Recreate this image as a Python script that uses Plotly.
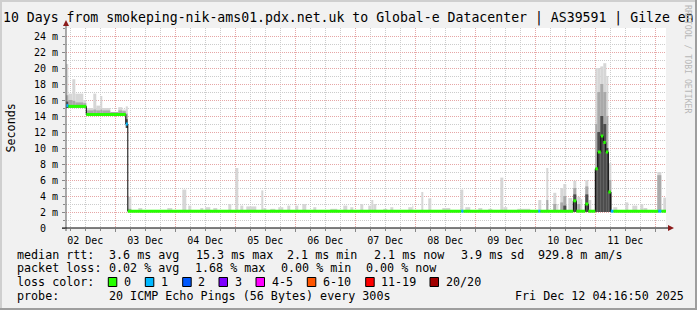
import pandas as pd
import plotly.graph_objects as go

# ---------------- data ----------------
START = "2025-12-02 04:16:50"
END = "2025-12-12 04:16:50"

# median rtt (ms) as steps: value holds from time until next time
median_from = [
    "2025-12-02 04:16:50", "2025-12-02 05:12", "2025-12-02 12:24", "2025-12-03 04:12",
    "2025-12-03 05:00", "2025-12-08 18:24", "2025-12-08 19:12", "2025-12-10 01:12",
    "2025-12-10 02:00", "2025-12-10 15:12", "2025-12-10 16:24", "2025-12-10 20:00",
    "2025-12-10 21:12", "2025-12-11 00:00", "2025-12-11 01:00", "2025-12-11 02:12",
    "2025-12-11 03:12", "2025-12-11 04:12", "2025-12-11 05:12", "2025-12-11 06:12",
    "2025-12-11 07:12", "2025-12-12 01:12", "2025-12-12 02:24",
]
median_ms = [
    15.3, 15.2, 14.2, 13.0,
    2.1, 2.1, 2.1, 2.1,
    2.1, 3.4, 2.1, 3.0,
    2.1, 7.4, 9.5, 11.5,
    10.7, 9.5, 4.5, 2.1,
    2.1, 2.1, 2.1,
]
median_loss = [
    1, 0, 0, 1,
    0, 1, 0, 1,
    0, 0, 0, 0,
    0, 0, 0, 0,
    0, 0, 0, 1,
    0, 1, 0,
]

# smoke (ping spread, ms) per time slice
smoke_from = [
    "2025-12-02 04:16:50", "2025-12-02 05:12", "2025-12-02 06:48", "2025-12-02 08:00",
    "2025-12-02 11:12", "2025-12-02 12:24", "2025-12-02 15:12", "2025-12-02 16:24",
    "2025-12-02 18:00", "2025-12-02 18:48", "2025-12-02 22:00", "2025-12-03 01:12",
    "2025-12-03 02:48", "2025-12-03 04:12", "2025-12-03 05:00",
    "2025-12-03 09:12", "2025-12-03 20:48", "2025-12-04 02:48", "2025-12-04 05:12",
    "2025-12-04 10:00", "2025-12-04 12:00", "2025-12-04 15:12", "2025-12-04 21:12",
    "2025-12-05 00:00", "2025-12-05 02:00", "2025-12-05 04:24", "2025-12-05 10:24",
    "2025-12-05 11:12", "2025-12-05 14:00", "2025-12-05 17:12", "2025-12-05 20:48",
    "2025-12-06 00:00", "2025-12-06 02:48", "2025-12-06 07:12", "2025-12-06 14:00",
    "2025-12-06 19:12", "2025-12-06 22:00", "2025-12-07 02:00", "2025-12-07 05:12",
    "2025-12-07 06:24", "2025-12-07 07:12", "2025-12-07 11:12", "2025-12-07 14:00",
    "2025-12-07 21:12", "2025-12-07 22:48", "2025-12-08 02:24", "2025-12-08 05:12",
    "2025-12-08 10:48", "2025-12-08 18:00", "2025-12-08 20:00", "2025-12-09 01:12",
    "2025-12-09 05:12", "2025-12-09 10:00", "2025-12-09 11:12", "2025-12-09 16:48",
    "2025-12-10 01:12", "2025-12-10 04:24", "2025-12-10 07:12", "2025-12-10 08:48",
    "2025-12-10 10:00", "2025-12-10 11:12", "2025-12-10 13:12", "2025-12-10 15:12",
    "2025-12-10 16:48", "2025-12-10 18:00", "2025-12-10 20:00", "2025-12-10 21:12",
    "2025-12-11 00:00", "2025-12-11 00:48", "2025-12-11 02:00", "2025-12-11 03:12",
    "2025-12-11 04:24", "2025-12-11 05:12", "2025-12-11 07:12", "2025-12-11 12:00",
    "2025-12-11 14:48", "2025-12-11 18:00", "2025-12-11 19:12", "2025-12-12 00:48",
    "2025-12-12 03:12",
]
smoke_to = [
    "2025-12-02 05:12", "2025-12-02 06:48", "2025-12-02 08:00", "2025-12-02 11:12",
    "2025-12-02 12:24", "2025-12-02 15:12", "2025-12-02 16:24", "2025-12-02 18:00",
    "2025-12-02 18:48", "2025-12-02 22:00", "2025-12-03 01:12", "2025-12-03 02:48",
    "2025-12-03 04:12", "2025-12-03 05:00", "2025-12-03 06:24",
    "2025-12-03 10:48", "2025-12-03 22:48", "2025-12-04 04:24", "2025-12-04 06:24",
    "2025-12-04 11:12", "2025-12-04 14:00", "2025-12-04 16:48", "2025-12-04 22:24",
    "2025-12-05 01:12", "2025-12-05 03:12", "2025-12-05 08:24", "2025-12-05 11:12",
    "2025-12-05 12:24", "2025-12-05 16:00", "2025-12-05 19:12", "2025-12-05 22:00",
    "2025-12-06 01:12", "2025-12-06 04:24", "2025-12-06 08:24", "2025-12-06 16:48",
    "2025-12-06 20:48", "2025-12-06 23:12", "2025-12-07 03:12", "2025-12-07 06:24",
    "2025-12-07 07:12", "2025-12-07 08:24", "2025-12-07 12:48", "2025-12-07 15:12",
    "2025-12-07 22:48", "2025-12-07 23:12", "2025-12-08 03:12", "2025-12-08 06:24",
    "2025-12-08 14:00", "2025-12-08 19:12", "2025-12-08 22:00", "2025-12-09 02:48",
    "2025-12-09 06:48", "2025-12-09 11:12", "2025-12-09 12:48", "2025-12-09 22:00",
    "2025-12-10 02:24", "2025-12-10 05:12", "2025-12-10 08:24", "2025-12-10 09:12",
    "2025-12-10 11:12", "2025-12-10 12:24", "2025-12-10 14:48", "2025-12-10 16:24",
    "2025-12-10 18:00", "2025-12-10 18:48", "2025-12-10 21:12", "2025-12-10 22:24",
    "2025-12-11 00:48", "2025-12-11 02:00", "2025-12-11 03:12", "2025-12-11 04:24",
    "2025-12-11 05:12", "2025-12-11 06:24", "2025-12-11 08:48", "2025-12-11 13:12",
    "2025-12-11 16:48", "2025-12-11 19:12", "2025-12-11 20:48", "2025-12-12 02:24",
    "2025-12-12 04:16:50",
]
smoke_min = [
    15.0, 15.0, 15.0, 15.0, 15.0, 14.0, 14.0, 14.0, 14.0, 14.0, 14.0, 14.0, 14.0, 12.5, 2.0,
] + [2.0] * 65
smoke_max = [
    20.5, 16.8, 18.6, 16.8, 16.0, 15.0, 16.8, 15.3, 16.5, 15.0, 14.5, 15.1, 14.8, 15.2, 3.9,
    2.5, 2.5, 4.8, 2.8, 2.5, 2.6, 2.5, 3.0,
    7.5, 2.8, 2.7, 4.7, 2.5, 2.4, 2.6, 2.8,
    2.8, 3.0, 2.6, 2.4, 2.8, 2.6, 3.0, 2.8,
    3.5, 3.0, 2.4, 2.6, 2.6, 2.8, 4.5, 3.7,
    2.5, 4.8, 2.6, 2.5, 2.4, 6.3, 2.6, 2.4,
    3.5, 7.5, 4.4, 3.0, 5.0, 5.5, 3.75, 5.9,
    3.9, 3.6, 6.0, 3.5,
    20.0, 20.0, 20.2, 20.6, 19.0, 8.1,
    2.6, 3.2, 2.8, 3.0, 2.5, 7.0, 3.8,
]
N = None
smoke_mid = [
    16.6, 16.0, 15.9, 15.7, 15.6, 14.7, 14.8, 14.7, 14.8, 14.7, 14.5, 14.7, 14.6, 14.3, 2.4,
    N, N, N, N, N, N, N, N,
    N, N, N, N, N, N, N, N,
    N, N, N, N, N, N, N, N,
    N, N, N, N, N, N, N, N,
    N, N, N, N, N, N, N, N,
    N, 3.5, 3.0, N, 3.2, 4.0, N, 5.0,
    3.0, N, 5.2, N,
    13.0, 17.0, 18.0, 17.0, 14.0, 6.0,
    N, N, N, N, N, 6.6, N,
]
smoke_core = [
    15.8, N, N, N, N, N, N, N, N, N, N, N, N, 13.6, N,
    N, N, N, N, N, N, N, N,
    N, N, N, N, N, N, N, N,
    N, N, N, N, N, N, N, N,
    N, N, N, N, N, N, N, N,
    N, N, N, N, N, N, N, N,
    N, N, N, N, N, 2.8, N, 4.2,
    N, N, 4.2, N,
    7.5, 12.0, 14.0, 13.0, 10.0, 4.5,
    N, N, N, N, N, N, N,
]

y_tick_ms = [0, 2, 4, 6, 8, 10, 12, 14, 16, 18, 20, 22, 24]
y_tick_labels = ["0\u00a0\u00a0", "2 m", "4 m", "6 m", "8 m", "10 m", "12 m", "14 m",
                 "16 m", "18 m", "20 m", "22 m", "24 m"]

loss_labels = ["0", "1", "2", "3", "4-5", "6-10", "11-19", "20/20"]
loss_colors = ["#26ff00", "#00b8ff", "#0059ff", "#7e00ff", "#ff00ff", "#ff5500", "#ff0000", "#a10000"]

title_text = "10 Days from smokeping-nik-ams01.pdx.net.uk to Global-e Datacenter | AS39591 | Gilze en"
rtt_stats = ["3.6 ms avg", "15.3 ms max", "2.1 ms min", "2.1 ms now", "3.9 ms sd", "929.8 m am/s"]
loss_stats = ["0.02 % avg", "1.68 % max", "0.00 % min", "0.00 % now"]
probe_text = "20 ICMP Echo Pings (56 Bytes) every 300s"
stamp_text = "Fri Dec 12 04:16:50 2025"

# ---------------- layout geometry (pixels) ----------------
FW, FH = 697, 310
L, PW = 66, 600
T, PH = 28, 200
MONO = "DejaVu Sans Mono"


def px(x):
    return (x - L) / PW


def py(y):
    return (T + PH - y) / PH


def to_dt(values):
    return pd.to_datetime(values, format="mixed")


fig = go.Figure()

# smoke layers
sf = to_dt(smoke_from)
st = to_dt(smoke_to)
centers = sf + (st - sf) / 2
widths = [(b - a).total_seconds() * 1000 for a, b in zip(sf, st)]

for top, color in [(smoke_max, "#d6d6d6"), (smoke_mid, "#a9a9a9"), (smoke_core, "#4d4d4d")]:
    idx = [i for i, v in enumerate(top) if v is not None]
    fig.add_trace(go.Bar(
        x=[centers[i] for i in idx],
        y=[top[i] - smoke_min[i] for i in idx],
        base=[smoke_min[i] for i in idx],
        width=[widths[i] for i in idx],
        marker=dict(color=color, line=dict(width=0)),
        hoverinfo="skip", showlegend=False,
    ))

# median line (black step)
mx = list(to_dt(median_from)) + [pd.Timestamp(END)]
my = median_ms + [median_ms[-1]]
fig.add_trace(go.Scatter(x=mx, y=my, mode="lines", line=dict(color="#000000", width=1, shape="hv"),
                         hoverinfo="skip", showlegend=False))

# coloured median segments by loss
for lv in sorted(set(median_loss)):
    xs, ys = [], []
    for i, v in enumerate(median_ms):
        if median_loss[i] == lv:
            xs += [mx[i], mx[i + 1], None]
            ys += [v, v, None]
    fig.add_trace(go.Scatter(x=xs, y=ys, mode="lines",
                             line=dict(color=loss_colors[lv], width=3),
                             hoverinfo="skip", showlegend=False, connectgaps=False))

annotations = []
shapes = []

# title (fits just inside the image width)
annotations.append(dict(xref="paper", yref="paper", x=px(0.5), y=py(17.5), xanchor="left", yanchor="middle",
                        text=title_text, showarrow=False, font=dict(family=MONO, size=13.2, color="#000")))
# y-axis title
annotations.append(dict(xref="paper", yref="paper", x=px(10.5), y=py(128), xanchor="center", yanchor="middle",
                        text="Seconds", textangle=-90, showarrow=False,
                        font=dict(family=MONO, size=11.7, color="#000")))
# rrdtool watermark
annotations.append(dict(xref="paper", yref="paper", x=px(688), y=py(59), xanchor="center", yanchor="middle",
                        text="RRDTOOL / TOBI OETIKER", textangle=90, showarrow=False,
                        font=dict(family=MONO, size=8.2, color="#b8b8b8")))

LEG = dict(family=MONO, size=11.7, color="#000")


def label(x, y, text):
    annotations.append(dict(xref="paper", yref="paper", x=px(x), y=py(y), xanchor="left", yanchor="middle",
                            text=text, showarrow=False, font=LEG))


row_y = [254.5, 268.3, 281.7, 295.7]
label(15.3, row_y[0], "median rtt:")
for xpos, t in zip([106.6, 193.6, 285.3, 372.0, 459.3, 536.0], rtt_stats):
    label(xpos, row_y[0], t)
label(15.3, row_y[1], "packet loss:")
for xpos, t in zip([106.6, 193.0, 278.6, 364.3], loss_stats):
    label(xpos, row_y[1], t)
label(15.3, row_y[2], "loss color:")
box_x = [108.3, 145.3, 182.7, 219.0, 256.0, 307.3, 365.7, 430.0]
for bx, lab, col in zip(box_x, loss_labels, loss_colors):
    shapes.append(dict(type="rect", xref="paper", yref="paper", x0=px(bx), x1=px(bx + 8.5),
                       y0=py(277.5), y1=py(286.5), fillcolor=col, line=dict(color="#000", width=1)))
    label(bx + 13.7, row_y[2], lab)
label(15.3, row_y[3], "probe:")
label(106.6, row_y[3], probe_text)
label(512.6, row_y[3], stamp_text)

# image frame (rrdtool shading)
shapes += [
    dict(type="rect", xref="paper", yref="paper", x0=px(0), x1=px(FW), y0=py(0), y1=py(2),
         fillcolor="#cfcfcf", line=dict(width=0), layer="above"),
    dict(type="rect", xref="paper", yref="paper", x0=px(0), x1=px(2), y0=py(0), y1=py(FH),
         fillcolor="#cfcfcf", line=dict(width=0), layer="above"),
    dict(type="rect", xref="paper", yref="paper", x0=px(FW - 2), x1=px(FW), y0=py(0), y1=py(FH),
         fillcolor="#9e9e9e", line=dict(width=0), layer="above"),
    dict(type="rect", xref="paper", yref="paper", x0=px(0), x1=px(FW), y0=py(FH - 2), y1=py(FH),
         fillcolor="#9e9e9e", line=dict(width=0), layer="above"),
]
# axes lines and arrows
shapes += [
    dict(type="line", xref="paper", yref="paper", x0=px(66), x1=px(66), y0=py(231), y1=py(25),
         line=dict(color="#5a5a5a", width=1), layer="above"),
    dict(type="line", xref="paper", yref="paper", x0=px(62), x1=px(670), y0=py(228), y1=py(228),
         line=dict(color="#000000", width=1), layer="above"),
    dict(type="path", xref="paper", yref="paper",
         path=f"M {px(63)} {py(26)} L {px(69)} {py(26)} L {px(66)} {py(20)} Z",
         fillcolor="#8b1a1a", line=dict(width=0), layer="above"),
    dict(type="path", xref="paper", yref="paper",
         path=f"M {px(668)} {py(225)} L {px(668)} {py(231)} L {px(674)} {py(228)} Z",
         fillcolor="#8b1a1a", line=dict(width=0), layer="above"),
]

fig.update_layout(
    width=FW, height=FH, autosize=False,
    margin=dict(l=L, r=FW - L - PW, t=T, b=FH - T - PH, pad=0),
    paper_bgcolor="#f1f1f1", plot_bgcolor="#ffffff",
    barmode="overlay", showlegend=False,
    annotations=annotations, shapes=shapes,
    font=dict(family=MONO, size=10, color="#000"),
)
fig.update_xaxes(
    type="date", range=[START, END],
    tick0="2025-12-02", dtick=86400000, tickformat="%d %b", ticklabelmode="period",
    showgrid=True, gridcolor="#e6a6a6", griddash="1px,1px", gridwidth=1,
    minor=dict(dtick=6 * 3600 * 1000, showgrid=True, gridcolor="#cccccc", griddash="1px,1px",
               ticks="outside", ticklen=2, tickcolor="#888"),
    ticks="outside", ticklen=3, tickcolor="#888",
    showline=False, zeroline=False, fixedrange=True,
    tickfont=dict(family=MONO, size=10, color="#000"),
)
fig.update_yaxes(
    range=[0, 25], tickmode="array", tickvals=y_tick_ms, ticktext=y_tick_labels,
    showgrid=True, gridcolor="#e6a6a6", griddash="1px,1px", gridwidth=1,
    minor=dict(dtick=1, tick0=0, showgrid=True, gridcolor="#cccccc", griddash="1px,1px",
               ticks="outside", ticklen=2, tickcolor="#888"),
    ticks="outside", ticklen=3, tickcolor="#888", ticklabelstandoff=2,
    showline=False, zeroline=False, fixedrange=True,
    tickfont=dict(family=MONO, size=10, color="#000"),
)

fig.write_html("out.html", config={"displayModeBar": False, "staticPlot": True},
               post_script="document.body.style.margin='0';")
